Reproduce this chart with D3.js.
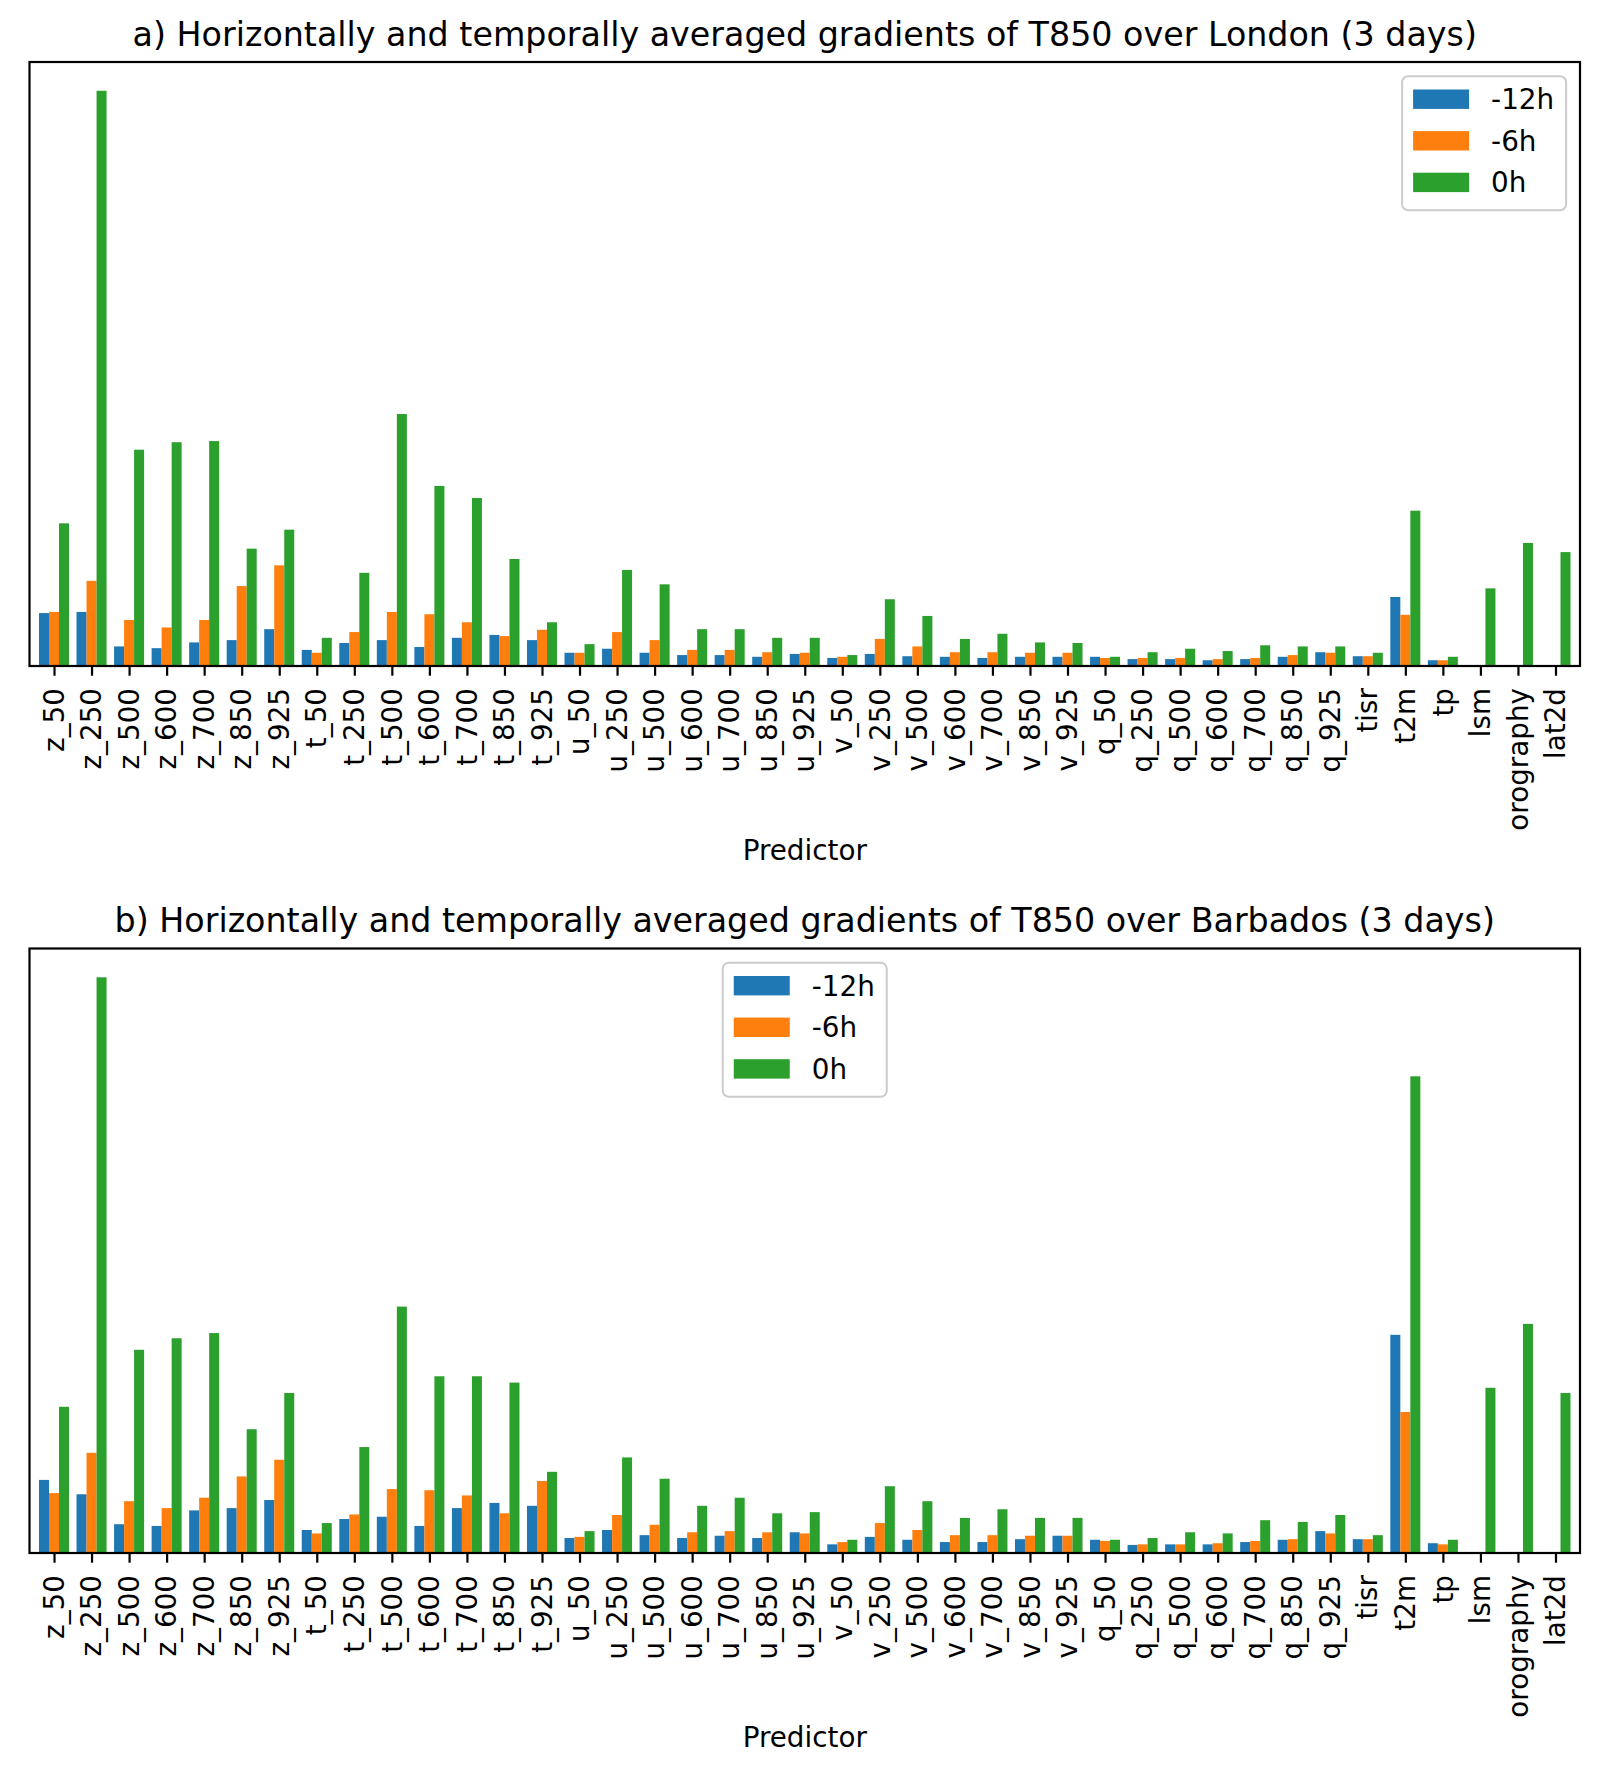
<!DOCTYPE html>
<html>
<head>
<meta charset="utf-8">
<script src="https://cdn.jsdelivr.net/npm/d3@7"></script>
<style>
  html, body { margin: 0; padding: 0; background: #ffffff; }
  svg { display: block; font-family: "DejaVu Sans", sans-serif; }
</style>
</head>
<body>
<div id="chart"></div>
<script>
// ---------------- DATA ----------------
const categories = ["z_50","z_250","z_500","z_600","z_700","z_850","z_925",
  "t_50","t_250","t_500","t_600","t_700","t_850","t_925",
  "u_50","u_250","u_500","u_600","u_700","u_850","u_925",
  "v_50","v_250","v_500","v_600","v_700","v_850","v_925",
  "q_50","q_250","q_500","q_600","q_700","q_850","q_925",
  "tisr","t2m","tp","lsm","orography","lat2d"];

const seriesNames = ["-12h", "-6h", "0h"];
const seriesColors = ["#1f77b4", "#ff7f0e", "#2ca02c"];

// a) London (relative gradient magnitude, % of largest bar)
const londonM12 = [9.2,9.4,3.4,3.1,4.1,4.5,6.4, 2.8,4.0,4.5,3.3,4.9,5.4,4.5,
  2.3,3.0,2.3,1.9,1.9,1.6,2.1, 1.4,2.1,1.7,1.6,1.4,1.6,1.6,
  1.6,1.2,1.2,1.0,1.2,1.6,2.4, 1.7,12.0,1.0,0,0,0];
const londonM6 = [9.4,14.8,8.0,6.7,8.0,13.9,17.5, 2.3,5.9,9.4,9.0,7.6,5.2,6.3,
  2.3,5.9,4.5,2.8,2.8,2.4,2.3, 1.6,4.7,3.4,2.4,2.4,2.3,2.3,
  1.4,1.4,1.4,1.2,1.4,1.9,2.3, 1.7,8.9,1.0,0,0,0];
const london0 = [24.8,100,37.6,38.9,39.1,20.4,23.7, 4.9,16.2,43.8,31.3,29.2,18.6,7.6,
  3.8,16.7,14.2,6.4,6.4,4.9,4.9, 1.9,11.6,8.7,4.7,5.6,4.1,4.0,
  1.6,2.4,3.0,2.6,3.6,3.4,3.4, 2.3,27.0,1.6,13.5,21.4,19.8];

// b) Barbados
const barbadosM12 = [12.7,10.2,5.0,4.7,7.4,7.8,9.2, 4.0,5.9,6.3,4.7,7.8,8.7,8.2,
  2.6,4.0,3.1,2.6,3.0,2.6,3.6, 1.5,2.8,2.3,1.9,1.9,2.4,3.0,
  2.3,1.4,1.5,1.5,1.9,2.3,3.8, 2.4,37.9,1.7,0,0,0];
const barbadosM6 = [10.4,17.4,9.0,7.8,9.6,13.3,16.2, 3.4,6.7,11.1,10.9,10.0,6.9,12.5,
  2.8,6.6,4.9,3.6,3.8,3.6,3.4, 1.9,5.2,4.0,3.1,3.1,3.0,3.0,
  2.1,1.5,1.5,1.7,2.1,2.4,3.4, 2.4,24.5,1.5,0,0,0];
const barbados0 = [25.4,100,35.3,37.3,38.2,21.5,27.8, 5.2,18.4,42.8,30.7,30.7,29.6,14.1,
  3.8,16.6,12.9,8.2,9.6,6.9,7.1, 2.3,11.6,9.0,6.1,7.6,6.1,6.1,
  2.3,2.6,3.6,3.4,5.7,5.4,6.6, 3.1,82.8,2.3,28.7,39.8,27.8];

const titles = [
  "a) Horizontally and temporally averaged gradients of T850 over London (3 days)",
  "b) Horizontally and temporally averaged gradients of T850 over Barbados (3 days)"
];
const xLabel = "Predictor";

// ---------------- LAYOUT ----------------
const W = 1599, H = 1774;
const FS = 27.8;          // 10pt at 200 dpi
const TFS = 33.3;         // 12pt at 200 dpi
const LW = 2.2;           // 0.8pt
const axLeft = 29.5, axRight = 1580;

const panels = [
  { top: 62, bottom: 666, series: [londonM12, londonM6, london0], title: titles[0], legend: "right" },
  { top: 948.5, bottom: 1553, series: [barbadosM12, barbadosM6, barbados0], title: titles[1], legend: "center" }
];

const svg = d3.select("#chart").append("svg")
  .attr("width", W).attr("height", H)
  .attr("viewBox", `0 0 ${W} ${H}`);
svg.append("rect").attr("width", W).attr("height", H).attr("fill", "#ffffff");

const n = categories.length;
const barW = 0.8 / 3;
const x = d3.scaleLinear().domain([-0.653, (n - 1) + 0.653]).range([axLeft, axRight]);

panels.forEach((p) => {
  const g = svg.append("g");
  const maxV = d3.max(p.series.flat());
  const y = d3.scaleLinear().domain([0, maxV * 1.05]).range([p.bottom, p.top]);

  // bars
  p.series.forEach((vals, si) => {
    g.append("g").selectAll("rect").data(vals).join("rect")
      .attr("x", (d, i) => x(i + (si - 1) * barW - barW / 2))
      .attr("width", (d, i) => x(i + barW / 2) - x(i - barW / 2))
      .attr("y", d => y(d))
      .attr("height", d => y(0) - y(d))
      .attr("fill", seriesColors[si]);
  });

  // x axis with ticks
  const xAxis = d3.axisBottom(x)
    .tickValues(d3.range(n))
    .tickFormat(i => categories[i])
    .tickSize(9.7)
    .tickPadding(0);
  const ax = g.append("g").attr("transform", `translate(0,${p.bottom})`).call(xAxis);
  ax.select(".domain").remove();
  ax.selectAll(".tick line").attr("stroke", "#000").attr("stroke-width", LW);
  ax.selectAll(".tick text")
    .attr("font-family", "DejaVu Sans")
    .attr("font-size", FS)
    .attr("fill", "#000")
    .attr("text-anchor", "end")
    .attr("dy", null)
    .attr("y", 0)
    .attr("transform", "translate(0,22) rotate(-90)")
    .attr("dy", "0.33em");

  // frame (spines)
  g.append("rect")
    .attr("x", axLeft).attr("y", p.top)
    .attr("width", axRight - axLeft).attr("height", p.bottom - p.top)
    .attr("fill", "none").attr("stroke", "#000").attr("stroke-width", LW);

  // title
  g.append("text")
    .attr("x", (axLeft + axRight) / 2).attr("y", p.top - 16.3)
    .attr("text-anchor", "middle")
    .attr("font-size", TFS).attr("fill", "#000")
    .text(p.title);

  // x label
  g.append("text")
    .attr("x", (axLeft + axRight) / 2).attr("y", p.bottom + 194)
    .attr("text-anchor", "middle")
    .attr("font-size", FS).attr("fill", "#000")
    .text(xLabel);

  // legend
  const lw = 164, lh = 134;
  const lx = p.legend === "right" ? axRight - 13.9 - lw : (axLeft + axRight) / 2 - lw / 2;
  const ly = p.top + 14.2;
  const lg = g.append("g").attr("transform", `translate(${lx},${ly})`);
  lg.append("rect").attr("width", lw).attr("height", lh)
    .attr("rx", 6).attr("ry", 6)
    .attr("fill", "#ffffff").attr("fill-opacity", 0.8)
    .attr("stroke", "#cccccc").attr("stroke-width", 2);
  seriesNames.forEach((name, si) => {
    const cy = 23 + si * 41.6;
    lg.append("rect").attr("x", 11).attr("y", cy - 9.7)
      .attr("width", 56).attr("height", 19.4)
      .attr("fill", seriesColors[si]);
    lg.append("text").attr("x", 89).attr("y", cy + 10)
      .attr("font-size", FS).attr("fill", "#000")
      .text(name);
  });
});
</script>
</body>
</html>
